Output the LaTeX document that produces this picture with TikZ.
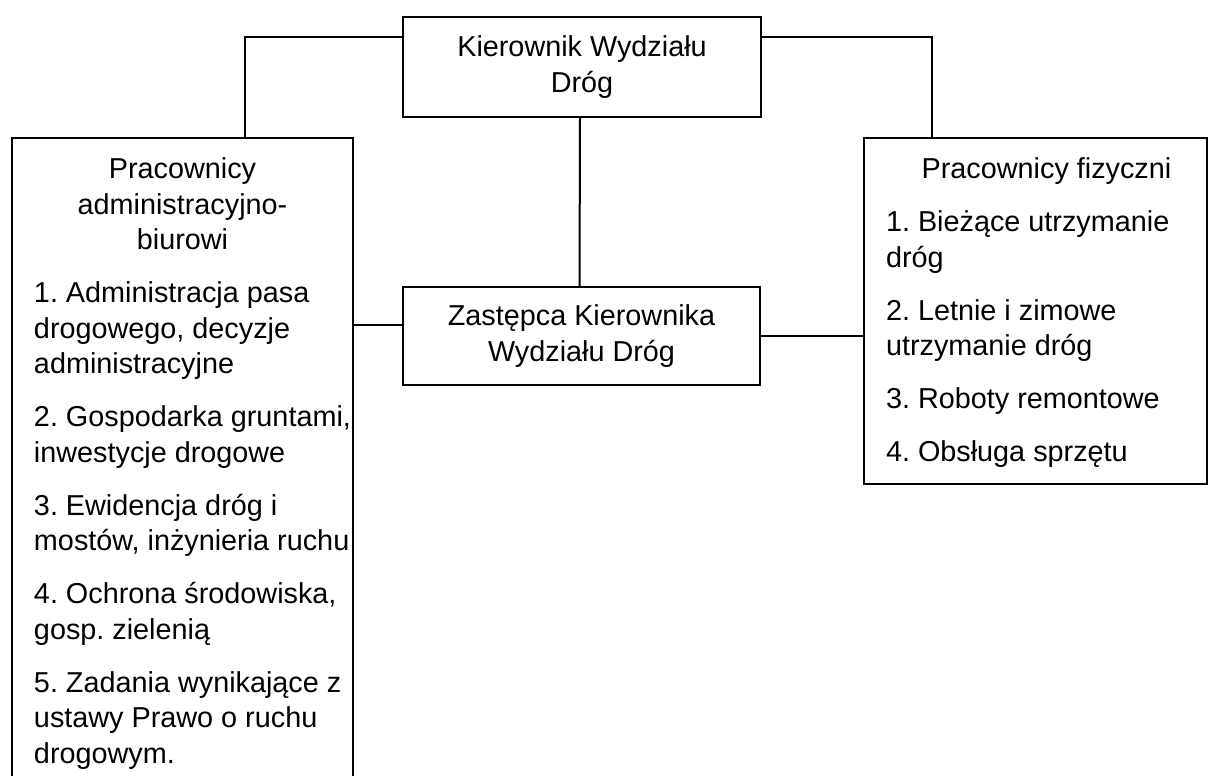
\documentclass[tikz,border=0pt]{standalone}
\usepackage{fontspec}
\setmainfont{Liberation Sans}
\usetikzlibrary{positioning}
\frenchspacing

\begin{document}
\begin{tikzpicture}[x=1pt,y=-1pt,line width=2pt,
  font=\fontsize{28.8pt}{35.5pt}\selectfont,
  box/.style={draw,line width=2pt,align=center,inner sep=0pt},
  listbox/.style={draw,line width=2pt,anchor=north west,inner xsep=0pt,inner ysep=20pt}]
  \useasboundingbox (0,0) rectangle (1208,776);
  \clip (0,0) rectangle (1208,776);

  % management
  \node[box,minimum width=358pt,minimum height=100pt] (chief) at (582,67) {Kierownik Wydziału\\Dróg};
  \node[box,minimum width=357pt,minimum height=98pt] (deputy) at (581.5,336) {Zastępca Kierownika\\Wydziału Dróg};

  % staff groups
  \node[listbox] (admin) at (11,137) {\parbox[t][620pt][t]{341pt}{%
    {\centering Pracownicy\\administracyjno-\\biurowi\par}
    \vspace{17.5pt}
    {\raggedright\leftskip=22pt
    1. Administracja pasa\\drogowego, decyzje\\administracyjne\\[17.5pt]
    2. Gospodarka gruntami,\\inwestycje drogowe\\[17.5pt]
    3. Ewidencja dróg i\\mostów, inżynieria ruchu\\[17.5pt]
    4. Ochrona środowiska,\\gosp. zielenią\\[17.5pt]
    5. Zadania wynikające z\\ustawy Prawo o ruchu\\drogowym.\par}}};
  \node[listbox] (workers) at (863,137) {\parbox[t][306pt][t]{343pt}{%
    \raggedright\leftskip=22pt
    \makebox[321pt]{Pracownicy fizyczni}\\[17.5pt]
    1. Bieżące utrzymanie\\dróg\\[17.5pt]
    2. Letnie i zimowe\\utrzymanie dróg\\[17.5pt]
    3. Roboty remontowe\\[17.5pt]
    4. Obsługa sprzętu\par}};

  % connectors
  \coordinate (dl) at ([yshift=11pt]deputy.west);
  \draw ([yshift=-21pt]chief.north west) -| ([xshift=234pt]admin.north west);
  \draw ([yshift=-21pt]chief.north east) -| ([xshift=69pt]workers.north west);
  \draw ([xshift=-2pt]chief.south) -- ([xshift=-2pt]deputy.north);
  \draw (dl) -- (dl -| admin.east);
  \draw (deputy.east) -- (deputy.east -| workers.west);
\end{tikzpicture}
\end{document}
